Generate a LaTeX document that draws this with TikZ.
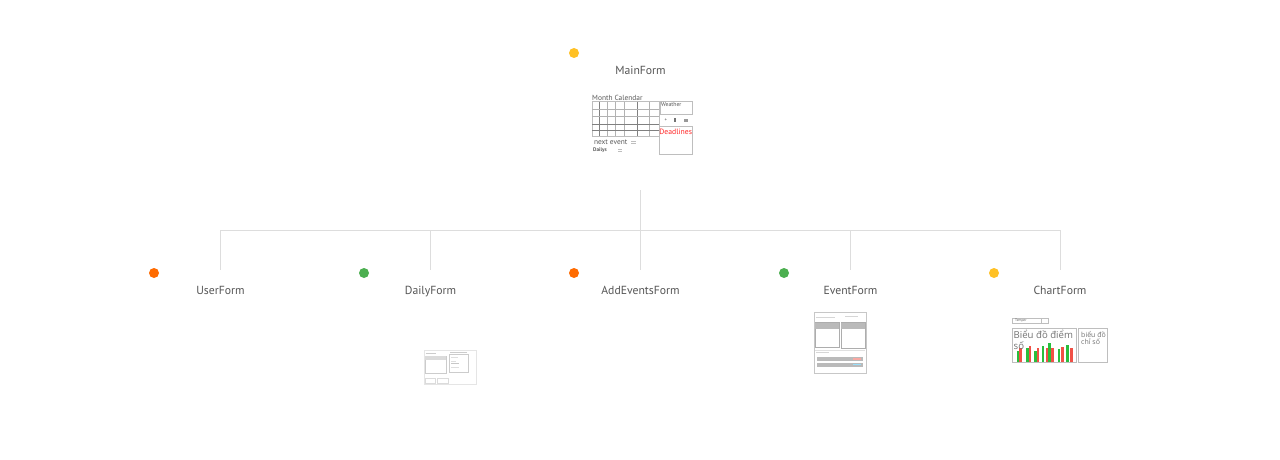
\documentclass[tikz,border=0pt]{standalone}
\usepackage{xcolor}
\usepackage{fontspec}
\setmainfont{PT Sans}
\newfontfamily\vnfont{Open Sans}
\usetikzlibrary{positioning}
\definecolor{dotyellow}{RGB}{255,193,37}
\definecolor{dotorange}{RGB}{255,107,0}
\definecolor{dotgreen}{RGB}{76,175,80}
\definecolor{linkgray}{RGB}{221,221,221}
\definecolor{labelgray}{RGB}{85,85,85}
\definecolor{thumbgray}{RGB}{190,190,190}
\definecolor{bargreen}{RGB}{40,190,60}
\definecolor{barred}{RGB}{240,80,70}

\begin{document}
\begin{tikzpicture}[
  x=1pt, y=-1pt,
  dot/.style={circle, fill=#1, inner sep=0pt, minimum size=10pt},
  form/.style={text=labelgray, inner sep=0pt, anchor=base, font=\fontsize{11.7}{13}\selectfont},
  link/.style={draw=linkgray, line width=0.8pt},
  frame/.style={draw=thumbgray, line width=0.7pt},
  gridline/.style={draw=black!50, line width=0.45pt},
  softline/.style={draw=black!#1, line width=0.6pt},
  band/.style={fill=black!27},
  tiny/.style={inner sep=0pt, anchor=west, text=black!65, font=\fontsize{#1}{#1}\selectfont}
]
\useasboundingbox (0,0) rectangle (1280,460);
\fill[white] (0,0) rectangle (1280,460);

\node[dot=dotyellow] (maindot) at (574,53) {};
\node[form] (main) at (640.5,74.5) {MainForm};
\node[dot=dotorange] (userdot) at (154,273) {};
\node[form] (user) at (220.5,294) {UserForm};
\node[dot=dotgreen] (dailydot) at (364,273) {};
\node[form] (daily) at (430.5,294) {DailyForm};
\node[dot=dotorange] (adddot) at (574,273) {};
\node[form] (add) at (640.5,294) {AddEventsForm};
\node[dot=dotgreen] (eventdot) at (784,273) {};
\node[form] (event) at (850.5,294) {EventForm};
\node[dot=dotyellow] (chartdot) at (994,273) {};
\node[form] (chart) at (1060,294) {ChartForm};

\coordinate (trunk) at (640.5,190);
\coordinate (hub) at (640.5,230.5);
\coordinate (usertop) at (220.5,270);
\coordinate (dailytop) at (430.5,270);
\coordinate (addtop) at (640.5,270);
\coordinate (eventtop) at (850.5,270);
\coordinate (charttop) at (1060.5,270);

\draw[link] (trunk) -- (hub);
\draw[link] (hub) -| (usertop);
\draw[link] (hub) -| (dailytop);
\draw[link] (hub) -- (addtop);
\draw[link] (hub) -| (eventtop);
\draw[link] (hub) -| (charttop);

% main thumbnail
\node[tiny=7.4] (calendar) at (592,98) {Month Calendar};
\draw[frame] (592,101.5) rectangle (659,136);
\draw[gridline] (599.7,101.5) -- (599.7,136);
\draw[softline=30] (607,101.5) -- (607,136);
\draw[softline=30] (615.3,101.5) -- (615.3,136);
\draw[softline=30] (624.7,101.5) -- (624.7,136);
\draw[gridline] (637.7,101.5) -- (637.7,136);
\draw[softline=30] (649.3,101.5) -- (649.3,136);
\draw[softline=30] (592,109) -- (659,109);
\draw[softline=30] (592,116.7) -- (659,116.7);
\draw[gridline] (592,124.3) -- (659,124.3);
\draw[gridline] (592,130) -- (659,130);
\draw[frame] (660.3,101.5) rectangle (692.7,114);
\node[tiny=5.8] (weather) at (660.8,105) {Weather};
\node[tiny=5] (plus) at (664.5,120.3) {+};
\fill[black!55] (674,118) rectangle (676,122);
\fill[black!40] (684,119) rectangle (688,122);
\draw[frame] (659,126.7) rectangle (692.7,154.3);
\node[tiny=7.7, text=red!85] (deadlines) at (659.2,132) {Deadlines};
\node[tiny=7.4] (nextevent) at (593.8,142) {next event};
\draw[frame, line width=0.4pt] (631,141) -- (636,141) (631,143) -- (636,143);
\node[tiny=5, font=\fontsize{5.2}{5}\selectfont\bfseries] (dailys) at (593,150) {Dailys};
\draw[frame, line width=0.4pt] (618,149.5) -- (622,149.5) (618,151.5) -- (622,151.5);

% daily thumbnail
\draw[softline=10] (424.3,350.3) rectangle (476.7,384.3);
\draw[softline=20] (425,356.3) rectangle (446,373.7);
\fill[black!14] (425,356.3) rectangle (446,359.5);
\draw[softline=20] (449.3,354.3) rectangle (468.3,372.3);
\draw[softline=20] (425.5,353.3) -- (436,353.3);
\draw[softline=20] (450,352.3) -- (467,352.3);
\draw[softline=13] (451,357.5) -- (458,357.5);
\draw[softline=13] (451,361) -- (456,361);
\draw[softline=22] (451,363.5) -- (459,363.5);
\draw[softline=13] (451,367.5) -- (459,367.5);
\draw[softline=14] (425,378.5) rectangle (435,383.5);
\draw[softline=14] (437,378.5) rectangle (448,383.5);

% event thumbnail
\draw[softline=22] (814.3,312.5) rectangle (866.7,373.3);
\draw[softline=16] (815.5,317.5) -- (834.5,317.5);
\draw[softline=16] (845,316.5) -- (858,316.5);
\draw[softline=32] (815,322.5) rectangle (839,347.7);
\fill[band] (815,323) rectangle (839,328.5);
\draw[softline=32] (841.3,322.5) rectangle (865,348.3);
\fill[band] (841.3,323) rectangle (865,328.5);
\draw[softline=16] (816,352.5) -- (829,352.5);
\draw[softline=12] (815,350) -- (865,350);
\fill[band] (817.3,357) rectangle (862.7,361);
\fill[band] (817.3,362.5) rectangle (862.7,366.5);
\fill[barred!50] (853,358.3) rectangle (861,359.8);
\fill[cyan!40] (853,363.8) rectangle (861,365.3);

% chart thumbnail
\draw[frame] (1012.5,318) rectangle (1048.3,323.8);
\draw[frame] (1041,318) -- (1041,323.8);
\node[tiny=3.6] (temper) at (1015,321) {Temper};
\draw[frame] (1012.5,328) rectangle (1076.7,362);
\draw[frame] (1078.5,328) rectangle (1107.5,362);
\fill[bargreen] (1016.7,350.5) rectangle (1019,361.5);
\fill[barred] (1019,348) rectangle (1021.7,361.5);
\fill[bargreen] (1026,348) rectangle (1028.7,361.5);
\fill[barred] (1028.7,345.5) rectangle (1031.3,361.5);
\fill[bargreen] (1034,350.5) rectangle (1036.7,361.5);
\fill[barred] (1036.7,348) rectangle (1039.3,361.5);
\fill[bargreen] (1041.7,345.5) rectangle (1044.3,361.5);
\fill[barred] (1045.7,348) rectangle (1048.3,361.5);
\fill[bargreen] (1047.7,343) rectangle (1051,361.5);
\fill[barred] (1051,348) rectangle (1053.7,361.5);
\fill[bargreen] (1057.7,349) rectangle (1060.3,361.5);
\fill[barred] (1061,347) rectangle (1063.7,361.5);
\fill[bargreen] (1066.3,344.5) rectangle (1069,361.5);
\fill[barred] (1070,348) rectangle (1072.7,361.5);
\node[tiny=9.6, text=black!55, align=left, anchor=north west, font=\vnfont\fontsize{9.6}{10.5}\selectfont] (scores) at (1013.5,330) {Biểu đồ điểm\\số};
\node[tiny=7, text=black!55, align=left, anchor=north west, font=\vnfont\fontsize{7}{7.5}\selectfont] (indexes) at (1081,331) {biểu đồ\\chỉ số};
\end{tikzpicture}
\end{document}
